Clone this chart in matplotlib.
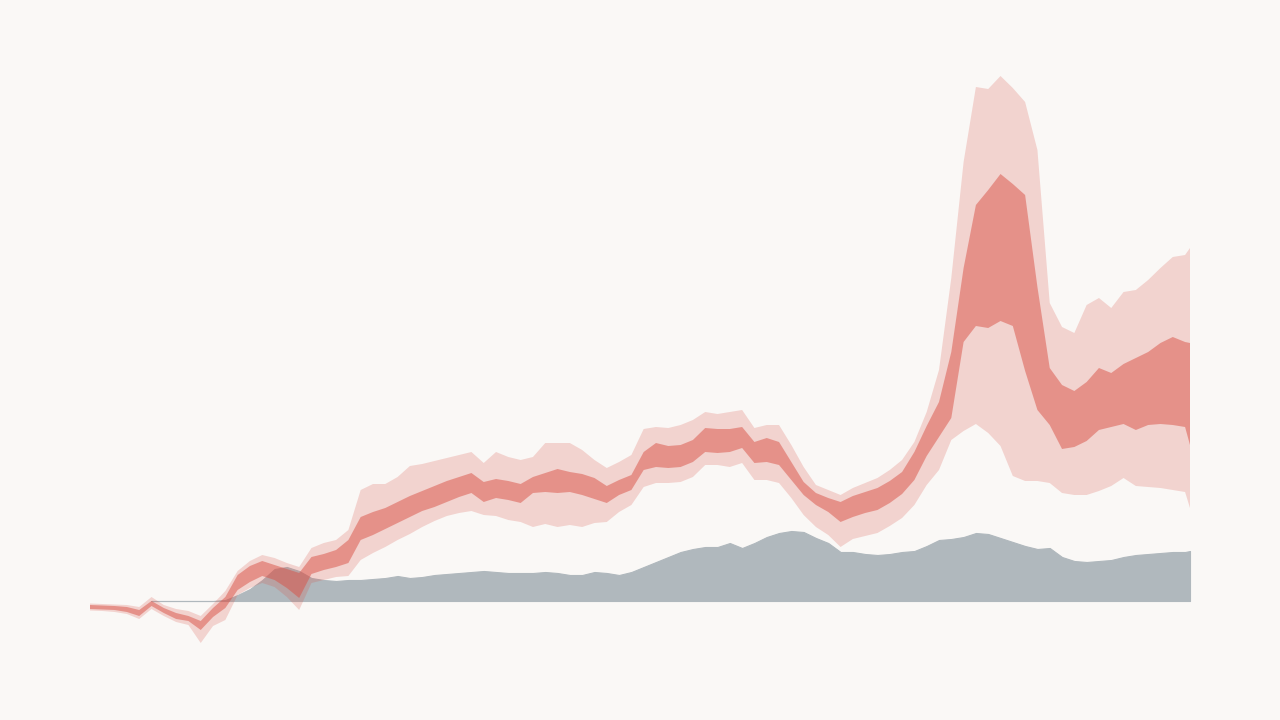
import numpy as np
import matplotlib
matplotlib.use('Agg')
import matplotlib.pyplot as plt

# week index (last week is only partly covered)
weeks = np.append(np.arange(90), 89.4)

# outer band (wide interval)
outer_hi = [-0.5, -0.6, -0.7, -0.8, -1.2, 0.8, -0.8, -1.6, -2.0, -3.0,
            -0.6, 2.0, 6.0, 8.0, 9.2, 8.6, 7.6, 6.8, 10.6, 11.6,
            12.2, 14.2, 22.2, 23.4, 23.4, 24.8, 27.0, 27.4, 28.0, 28.6,
            29.2, 29.8, 27.6, 29.8, 28.8, 28.2, 28.8, 31.6, 31.6, 31.6,
            30.2, 28.2, 26.6, 27.8, 29.2, 34.4, 34.8, 34.6, 35.2, 36.2,
            37.8, 37.4, 37.8, 38.2, 34.6, 35.2, 35.2, 31.2, 26.8, 23.2,
            22.2, 21.2, 22.6, 23.6, 24.6, 26.2, 28.2, 31.8, 37.8, 46.2,
            64.6, 87.8, 102.8, 102.4, 105.0, 102.6, 99.8, 90.2, 59.6, 54.8,
            53.6, 59.2, 60.6, 58.6, 61.8, 62.2, 64.2, 66.6, 68.8, 69.2,
            70.6]
outer_lo = [-1.9, -2.0, -2.2, -2.6, -3.6, -1.6, -3.0, -4.2, -4.8, -8.4,
            -5.0, -3.8, 1.2, 2.6, 3.6, 2.8, 0.8, -1.8, 3.6, 4.2,
            4.8, 5.0, 8.2, 9.6, 10.8, 12.2, 13.4, 14.8, 16.0, 17.0,
            17.6, 18.0, 17.2, 17.0, 16.2, 15.8, 14.8, 15.4, 14.8, 15.2,
            14.8, 15.6, 15.8, 17.8, 19.2, 22.8, 23.6, 23.6, 23.8, 24.8,
            27.2, 27.2, 26.8, 27.6, 24.2, 24.2, 23.6, 20.6, 17.2, 14.8,
            13.2, 10.8, 12.4, 13.0, 13.6, 15.0, 16.6, 19.2, 23.2, 26.2,
            32.2, 34.0, 35.4, 33.6, 31.0, 25.0, 24.0, 24.0, 23.6, 21.6,
            21.2, 21.2, 22.0, 23.0, 24.6, 23.0, 22.8, 22.6, 22.2, 21.8,
            18.6]

# inner band (narrow interval)
inner_hi = [-0.8, -0.9, -1.0, -1.2, -1.8, 0.0, -1.4, -2.4, -3.0, -4.0,
            -1.4, 0.8, 5.2, 7.0, 8.0, 7.2, 6.4, 5.6, 8.8, 9.4,
            10.2, 12.2, 16.8, 17.8, 18.6, 19.8, 21.0, 22.0, 23.0, 24.0,
            24.8, 25.6, 23.8, 24.4, 24.0, 23.4, 24.8, 25.6, 26.4, 25.8,
            25.4, 24.6, 23.0, 24.2, 25.2, 29.8, 31.6, 31.0, 31.2, 32.2,
            34.6, 34.4, 34.4, 34.8, 31.8, 32.6, 31.8, 27.8, 23.8, 21.6,
            20.6, 19.8, 21.0, 21.8, 22.6, 24.0, 25.8, 29.8, 35.0, 39.8,
            49.8, 66.6, 79.2, 82.2, 85.4, 83.4, 81.2, 62.8, 46.6, 43.2,
            42.0, 43.8, 46.6, 45.6, 47.4, 48.6, 49.8, 51.6, 52.8, 51.8,
            51.6]
inner_lo = [-1.6, -1.7, -1.8, -2.2, -3.0, -1.0, -2.4, -3.6, -4.0, -5.8,
            -3.2, -1.4, 2.2, 3.8, 5.0, 4.2, 2.6, 0.6, 5.4, 6.2,
            6.8, 7.6, 12.2, 13.2, 14.4, 15.6, 16.8, 18.0, 18.8, 19.8,
            20.8, 21.6, 19.8, 20.6, 20.2, 19.6, 21.6, 21.8, 21.6, 21.8,
            21.2, 20.4, 19.6, 21.2, 22.2, 26.2, 26.8, 26.6, 26.8, 27.8,
            29.8, 29.6, 29.8, 30.6, 27.6, 27.8, 27.2, 24.2, 21.2, 19.2,
            17.8, 15.8, 16.8, 17.6, 18.2, 19.6, 21.4, 24.2, 29.0, 32.8,
            36.6, 51.8, 55.0, 54.6, 56.0, 55.0, 46.0, 38.2, 35.2, 30.4,
            30.8, 32.0, 34.2, 34.8, 35.4, 34.2, 35.2, 35.4, 35.2, 34.8,
            31.2]

# baseline series, starts at week 5
base_start = 5
baseline = [0.0, 0.0, 0.0, 0.0, 0.0, 0.0, 0.2, 1.2, 2.4, 4.2,
            6.4, 6.8, 6.0, 4.6, 4.2, 4.0, 4.2, 4.2, 4.4, 4.6,
            5.0, 4.6, 4.8, 5.2, 5.4, 5.6, 5.8, 6.0, 5.8, 5.6,
            5.6, 5.6, 5.8, 5.6, 5.2, 5.2, 5.8, 5.6, 5.2, 5.8,
            6.8, 7.8, 8.8, 9.8, 10.4, 10.8, 10.8, 11.6, 10.6, 11.6,
            12.8, 13.6, 14.0, 13.8, 12.6, 11.6, 9.8, 9.8, 9.4, 9.2,
            9.4, 9.8, 10.0, 11.0, 12.2, 12.4, 12.8, 13.6, 13.4, 12.6,
            11.8, 11.0, 10.4, 10.6, 8.8, 8.0, 7.8, 8.0, 8.2, 8.8,
            9.2, 9.4, 9.6, 9.8, 9.8, 10.0]

bg = '#faf8f6'
grey = '#b0b8bd'
red = '#d95045'

fig = plt.figure(figsize=(12.8, 7.2), dpi=100, facecolor=bg)
ax = fig.add_axes([0, 0, 1, 1])
ax.set_facecolor(bg)

xb = weeks[base_start:]
ax.fill_between(xb, 0, baseline, facecolor=grey, edgecolor=grey, linewidth=0.8)

ax.fill_between(weeks, outer_lo, outer_hi, facecolor=red, alpha=0.22, linewidth=0)
ax.fill_between(weeks, inner_lo, inner_hi, facecolor=red, alpha=0.5, linewidth=0)

# first point sits at 90 px, last at 1190 px
span = weeks[-1] - weeks[0]
pad = 90 * span / 1100
ax.set_xlim(weeks[0] - pad, weeks[-1] + pad)
ax.set_ylim(-23.8, 120.2)
ax.axis('off')

fig.savefig('out.png', dpi=100, facecolor=bg)
